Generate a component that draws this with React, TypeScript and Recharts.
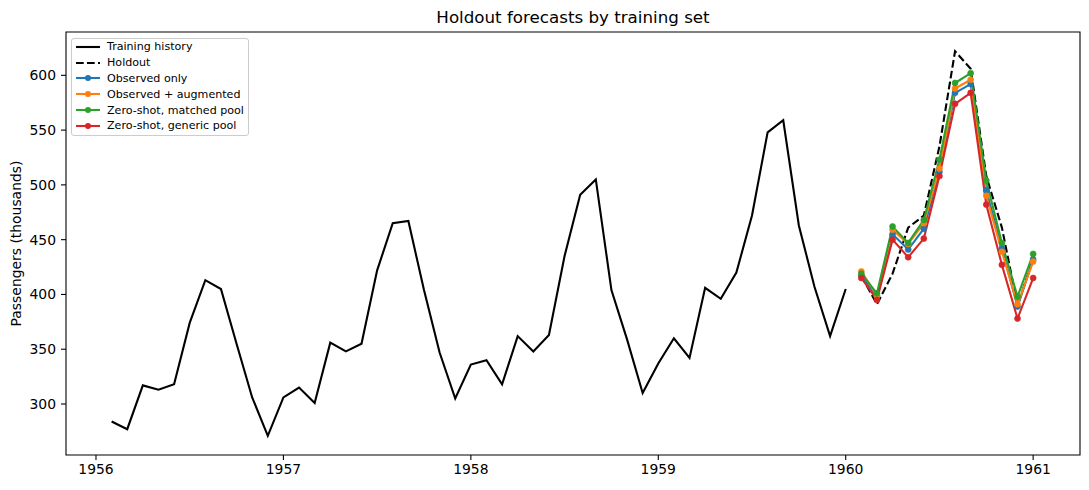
import React from "react";
import { LineChart, Line, XAxis, YAxis, ReferenceArea, Legend } from "recharts";

// monthly passengers (thousands), Jan 1956 .. Dec 1959
const trainingHistory = [
  284, 277, 317, 313, 318, 374, 413, 405, 355, 306, 271, 306,
  315, 301, 356, 348, 355, 422, 465, 467, 404, 347, 305, 336,
  340, 318, 362, 348, 363, 435, 491, 505, 404, 359, 310, 337,
  360, 342, 406, 396, 420, 472, 548, 559, 463, 407, 362, 405,
];
// Jan .. Dec 1960
const holdout = [417, 391, 419, 461, 472, 535, 622, 606, 508, 461, 390, 432];
const observedOnly = [417, 398, 455, 441, 460, 512, 584, 592, 495, 442, 389, 432];
const observedAugmented = [421, 399, 459, 446, 465, 515, 588, 596, 490, 439, 391, 430];
const matchedPool = [419, 401, 462, 447, 468, 523, 593, 602, 504, 447, 398, 437];
const genericPool = [415, 395, 450, 434, 451, 508, 574, 584, 482, 427, 378, 415];

const xTicks = [1956, 1957, 1958, 1959, 1960, 1961];
const yTicks = [300, 350, 400, 450, 500, 550, 600];

const X_DOMAIN: [number, number] = [1955.84, 1961.25];
const Y_DOMAIN: [number, number] = [253.45, 639.55];

const toSeries = (values: number[], startYear: number) =>
  values.map((v, i) => ({ x: startYear + (i + 1) / 12, v }));

const training = toSeries(trainingHistory, 1956);
const holdoutData = toSeries(holdout, 1960);

const forecasts = [
  { name: "Observed only", color: "#1f77b4", data: toSeries(observedOnly, 1960) },
  { name: "Observed + augmented", color: "#ff7f0e", data: toSeries(observedAugmented, 1960) },
  { name: "Zero-shot, matched pool", color: "#2ca02c", data: toSeries(matchedPool, 1960) },
  { name: "Zero-shot, generic pool", color: "#d62728", data: toSeries(genericPool, 1960) },
];

const FONT = "'DejaVu Sans', sans-serif";
const tickStyle = { fontSize: 13.9, fill: "#000", fontFamily: FONT };

function LegendBox() {
  const rows = [
    { name: "Training history", color: "#000", dash: undefined as string | undefined, dot: false },
    { name: "Holdout", color: "#000", dash: "7.7 3.3", dot: false },
    ...forecasts.map((f) => ({ name: f.name, color: f.color, dash: undefined, dot: true })),
  ];
  return (
    <div
      style={{
        boxSizing: "border-box",
        width: 178,
        border: "1px solid #cccccc",
        borderRadius: 3,
        background: "rgba(255,255,255,0.8)",
        padding: "0 4px 1px 4px",
        fontFamily: FONT,
        fontSize: 11.1,
        color: "#000",
      }}
    >
      {rows.map((r) => (
        <div key={r.name} style={{ height: 15.8, display: "flex", alignItems: "center" }}>
          <svg width={24} height={10} style={{ flex: "none" }}>
            <line x1={0} x2={24} y1={5} y2={5} stroke={r.color} strokeWidth={2.1} strokeDasharray={r.dash} />
            {r.dot && <circle cx={12} cy={5} r={3} fill={r.color} />}
          </svg>
          <span style={{ marginLeft: 7, whiteSpace: "nowrap" }}>{r.name}</span>
        </div>
      ))}
    </div>
  );
}

export default function App() {
  return (
    <div style={{ position: "absolute", left: 0, top: 0, width: 1089, height: 490, background: "#fff" }}>
      <div
        style={{
          position: "absolute",
          left: 66,
          width: 1014,
          top: 7,
          textAlign: "center",
          fontFamily: FONT,
          fontSize: 16.7,
          color: "#000",
        }}
      >
        Holdout forecasts by training set
      </div>
      <LineChart width={1089} height={490} margin={{ top: 32, right: 9, bottom: 0, left: 0 }}>
        <XAxis
          type="number"
          dataKey="x"
          domain={X_DOMAIN}
          ticks={xTicks}
          allowDataOverflow
          axisLine={false}
          tickSize={5}
          tickMargin={4}
          tickLine={{ stroke: "#000", strokeWidth: 1.1 }}
          tick={tickStyle}
          height={35}
          interval={0}
        />
        <YAxis
          type="number"
          domain={Y_DOMAIN}
          ticks={yTicks}
          allowDataOverflow
          axisLine={false}
          tickSize={5}
          tickMargin={5}
          tickLine={{ stroke: "#000", strokeWidth: 1.1 }}
          tick={tickStyle}
          width={66}
          interval={0}
          label={{
            value: "Passengers (thousands)",
            angle: -90,
            position: "insideLeft",
            offset: 0,
            dx: 16,
            style: { textAnchor: "middle", fontSize: 13.9, fill: "#000", fontFamily: FONT },
          }}
        />
        <ReferenceArea
          x1={X_DOMAIN[0]}
          x2={X_DOMAIN[1]}
          y1={Y_DOMAIN[0]}
          y2={Y_DOMAIN[1]}
          fill="none"
          stroke="#000"
          strokeWidth={1.1}
          ifOverflow="visible"
        />
        <Line
          data={training}
          dataKey="v"
          name="Training history"
          stroke="#000"
          strokeWidth={2.1}
          dot={false}
          activeDot={false}
          isAnimationActive={false}
        />
        <Line
          data={holdoutData}
          dataKey="v"
          name="Holdout"
          stroke="#000"
          strokeWidth={2.1}
          strokeDasharray="7.7 3.3"
          dot={false}
          activeDot={false}
          isAnimationActive={false}
        />
        {forecasts.map((f) => (
          <Line
            key={f.name}
            data={f.data}
            dataKey="v"
            name={f.name}
            stroke={f.color}
            strokeWidth={2.1}
            dot={{ r: 3, fill: f.color, stroke: f.color, strokeWidth: 0.6 }}
            activeDot={false}
            isAnimationActive={false}
          />
        ))}
        <Legend
          layout="vertical"
          align="center"
          verticalAlign="middle"
          wrapperStyle={{ left: 71, top: 38, width: 178, height: "auto" }}
          content={() => <LegendBox />}
        />
      </LineChart>
    </div>
  );
}
